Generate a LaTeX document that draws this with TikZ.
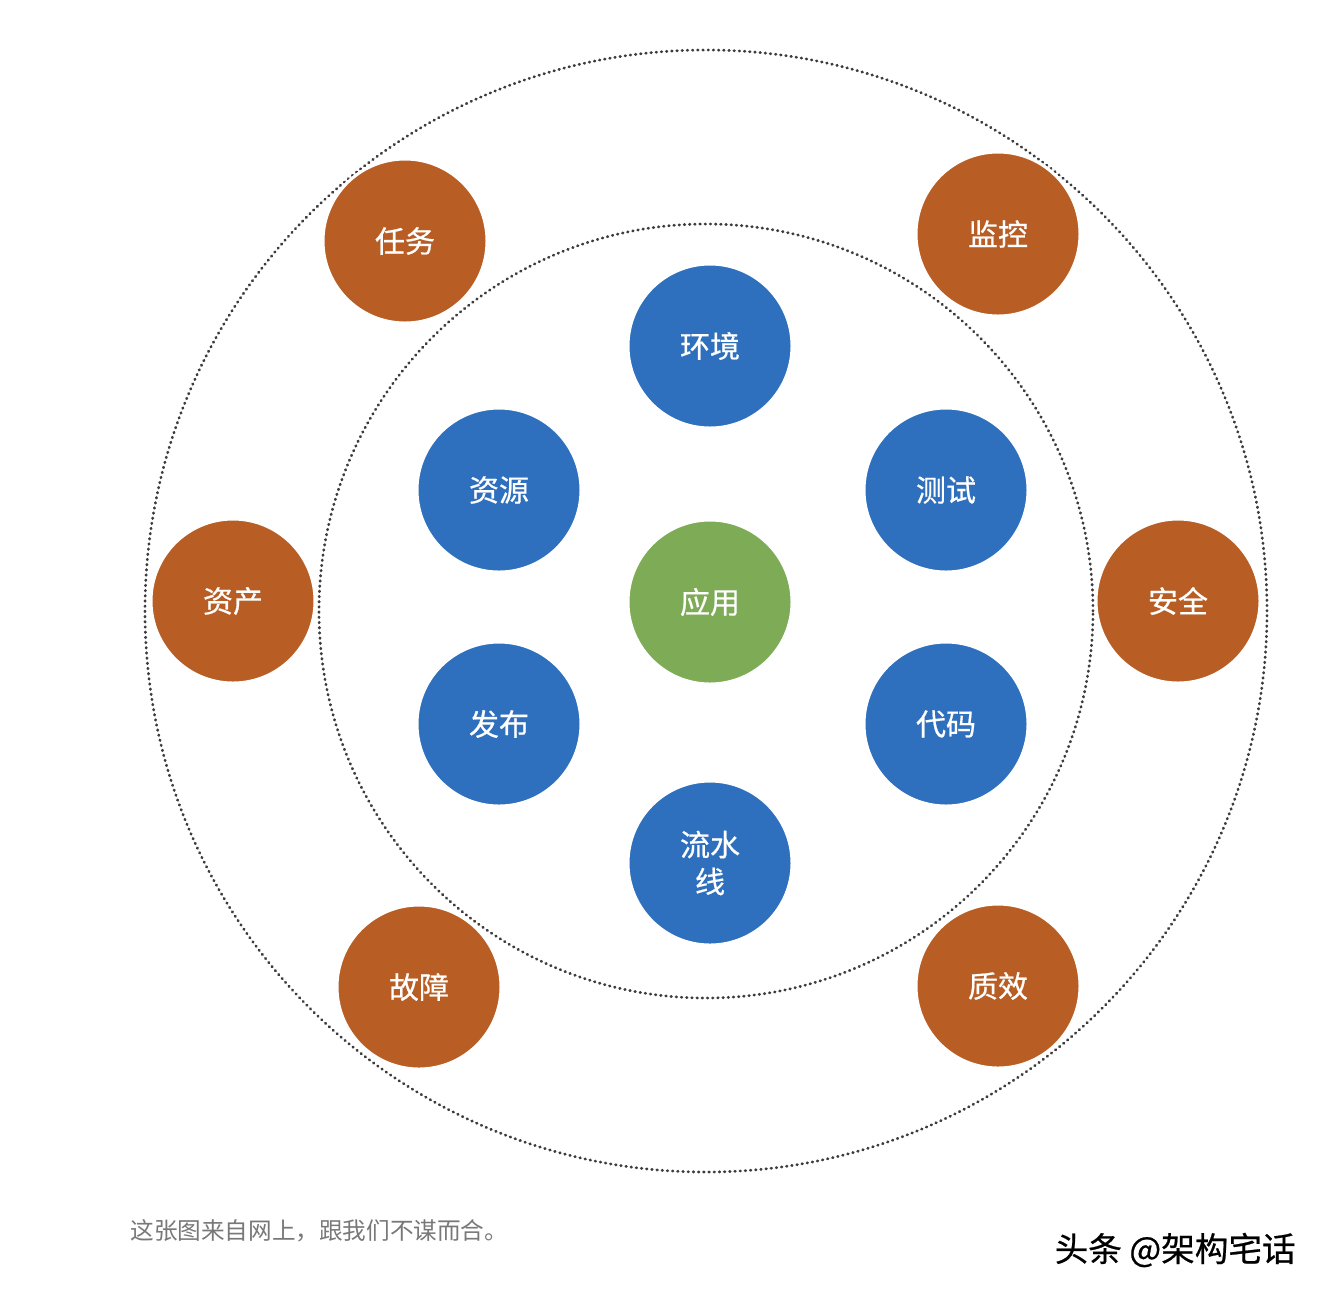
\documentclass[tikz,border=0pt]{standalone}
\usepackage{fontspec}
\newfontfamily\cjk{Noto Sans CJK SC}
\newfontfamily\cjkb[FakeBold=0.6]{Noto Sans CJK SC}
\definecolor{cblue}{RGB}{46,112,189}
\definecolor{corange}{RGB}{184,94,37}
\definecolor{cgreen}{RGB}{126,171,85}
\definecolor{cdot}{RGB}{60,60,60}
\definecolor{ccap}{RGB}{120,120,120}
\begin{document}
\begin{tikzpicture}[x=0.5pt,y=-0.5pt,
  ring/.style={draw=cdot,line width=1.4pt,dash pattern=on 0.3pt off 2.3pt,line cap=round},
  ball/.style={circle,minimum size=82pt,inner sep=0pt,draw=white,line width=1.5pt,
    text=white,font=\cjkb\fontsize{15pt}{17pt}\selectfont,align=center},
  blueball/.style={ball,fill=cblue},
  orangeball/.style={ball,fill=corange},
  greenball/.style={ball,fill=cgreen}]
\useasboundingbox (0,0) rectangle (1326,1298);
\fill[white] (0,0) rectangle (1326,1298);
\coordinate (c) at (706,611);
\draw[ring] (c) circle[radius=280.5pt];
\draw[ring] (c) circle[radius=193.5pt];
\node[greenball] (app) at (710,602) {应用};
\node[blueball] (env) at (710,346) {环境};
\node[blueball] (res) at (499,490) {资源};
\node[blueball] (test) at (946,490) {测试};
\node[blueball] (rel) at (499,724) {发布};
\node[blueball] (code) at (946,724) {代码};
\node[blueball,font=\cjkb\fontsize{15pt}{18.5pt}\selectfont] (pipe) at (710,863) {流水\\线};
\node[orangeball] (task) at (405,241) {任务};
\node[orangeball] (mon) at (998,234) {监控};
\node[orangeball] (asset) at (233,601) {资产};
\node[orangeball] (sec) at (1178,601) {安全};
\node[orangeball] (fault) at (419,987) {故障};
\node[orangeball] (qual) at (998,986) {质效};
\node[anchor=west,text=ccap,font=\cjk\fontsize{11.8pt}{13pt}\selectfont,inner sep=0pt] (cap) at (130,1231) {这张图来自网上，跟我们不谋而合。};
\node[anchor=east,text=black,font=\cjkb\fontsize{16.8pt}{18pt}\selectfont,inner sep=0pt] (wm) at (1296,1250) {头条 @架构宅话};
\end{tikzpicture}
\end{document}
